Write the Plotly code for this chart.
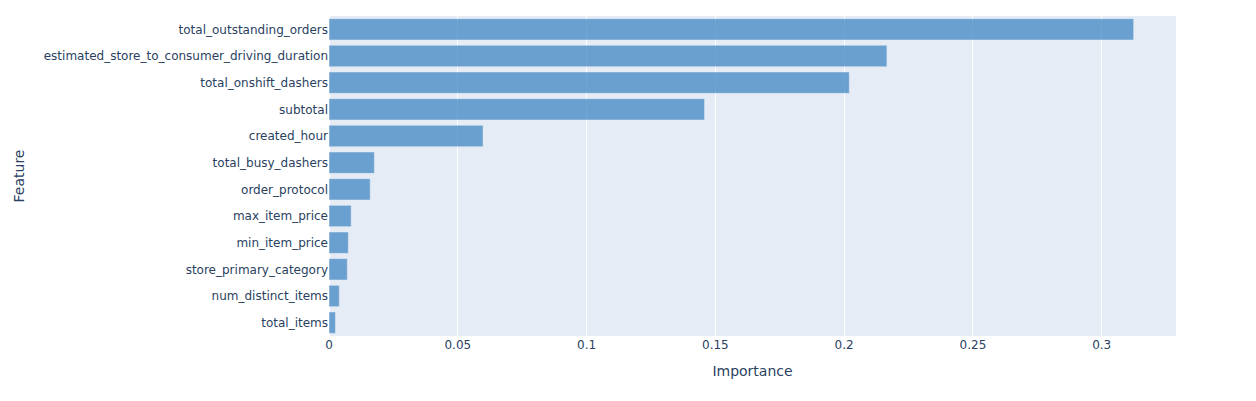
import plotly.graph_objects as go

features = [
    "total_outstanding_orders",
    "estimated_store_to_consumer_driving_duration",
    "total_onshift_dashers",
    "subtotal",
    "created_hour",
    "total_busy_dashers",
    "order_protocol",
    "max_item_price",
    "min_item_price",
    "store_primary_category",
    "num_distinct_items",
    "total_items",
]
importance = [0.3124, 0.2166, 0.2020, 0.1458, 0.0598, 0.0176, 0.0160, 0.0086, 0.0075, 0.0071, 0.0040, 0.0025]

fig = go.Figure(go.Bar(
    x=importance,
    y=features,
    orientation="h",
    marker=dict(color="rgb(55, 128, 191)"),
    opacity=0.7,
))
fig.update_layout(
    width=1248,
    height=393,
    margin=dict(l=321, r=80, t=8, b=65),
    font=dict(family="Verdana, DejaVu Sans, sans-serif"),
    xaxis_title="Importance",
    yaxis_title="Feature",
    yaxis=dict(autorange="reversed"),
)
fig.write_html("out.html")
